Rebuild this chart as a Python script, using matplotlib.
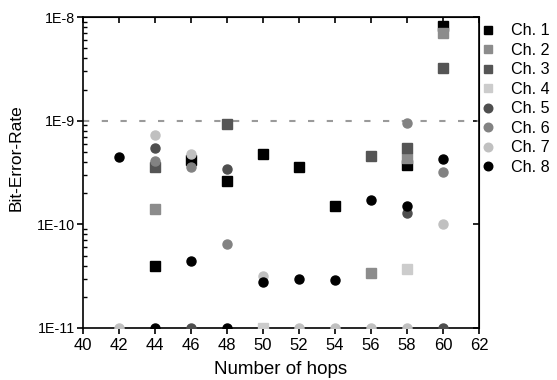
import numpy as np
import matplotlib
matplotlib.use("Agg")
import matplotlib.pyplot as plt
from matplotlib.ticker import FixedLocator, LogLocator, NullFormatter

plt.rcParams['font.family'] = ['Liberation Sans', 'DejaVu Sans']

# hops on the x axis
hops = [42, 44, 46, 48, 50, 52, 54, 56, 58, 60]
nan = np.nan

# BER per channel (1E-11 = floor, no errors measured)
ch1 = [nan, 4.0e-11, 4.2e-10, 2.6e-10, 4.8e-10, 3.6e-10, 1.5e-10, nan, 3.7e-10, 8.2e-9]
ch2 = [nan, 1.4e-10, nan, nan, nan, nan, nan, 3.4e-11, 4.4e-10, 7.1e-9]
ch3 = [nan, 3.6e-10, nan, 9.3e-10, nan, nan, nan, 4.6e-10, 5.5e-10, 3.2e-9]
ch4 = [nan, nan, nan, nan, 1e-11, nan, nan, nan, 3.7e-11, nan]
ch5 = [nan, 5.5e-10, 1e-11, 3.4e-10, nan, nan, nan, nan, 1.3e-10, 1e-11]
ch6 = [nan, 4.1e-10, 3.6e-10, 6.5e-11, nan, nan, nan, nan, 9.6e-10, 3.2e-10]
ch7 = [1e-11, 7.2e-10, 4.8e-10, nan, 3.2e-11, 1e-11, 1e-11, 1e-11, 1e-11, 1.0e-10]
ch8 = [4.5e-10, 1e-11, 4.4e-11, 1e-11, 2.75e-11, 3.0e-11, 2.9e-11, 1.7e-10, 1.5e-10, 4.3e-10]

labels = ["Ch. 1", "Ch. 2", "Ch. 3", "Ch. 4", "Ch. 5", "Ch. 6", "Ch. 7", "Ch. 8"]
series = [ch1, ch2, ch3, ch4, ch5, ch6, ch7, ch8]
marcadores = ['s', 's', 's', 's', 'o', 'o', 'o', 'o']
colores = ['#000000', '#8c8c8c', '#555555', '#cccccc', '#4e4e4e', '#828282', '#c0c0c0', '#000000']

fig = plt.figure(figsize=(5.57, 3.8), dpi=100)
ax = fig.add_axes([0.149, 0.137, 0.711, 0.818])

ax.axhline(1e-9, color='#9a9a9a', ls=(0, (3, 6)), lw=1.5, zorder=1)

for y, m, c, lab in zip(series, marcadores, colores, labels):
    ax.plot(hops, y, ls='none', marker=m, ms=6.5, color=c, mec=c, label=lab, zorder=3)

ax.set_yscale('log')
ax.set_xlim(40, 62)
ax.set_ylim(1e-11, 1e-8)
ax.set_xticks(range(40, 63, 2))
ax.yaxis.set_major_locator(FixedLocator([1e-11, 1e-10, 1e-9, 1e-8]))
ax.set_yticklabels(["1E-11", "1E-10", "1E-9", "1E-8"])
ax.yaxis.set_minor_locator(LogLocator(base=10, subs=np.arange(2, 10)))
ax.yaxis.set_minor_formatter(NullFormatter())

for s in ax.spines.values():
    s.set_linewidth(1.2)

ax.tick_params(axis='x', which='major', direction='out', length=4, width=1.2,
               labelsize=12, top=False, pad=3)
ax.tick_params(axis='y', which='major', direction='out', length=4, width=1.2,
               labelsize=10.3, right=False, pad=2)
ax.tick_params(axis='y', which='minor', direction='in', length=3, width=1, right=False)

# ticks on top and right side (inside, no labels)
top = ax.secondary_xaxis('top')
top.set_xticks(range(40, 63, 2))
top.tick_params(direction='in', length=4, width=1.2, labeltop=False)
right = ax.secondary_yaxis('right')
right.set_yscale('log')
right.yaxis.set_major_locator(FixedLocator([1e-11, 1e-10, 1e-9, 1e-8]))
right.yaxis.set_minor_locator(FixedLocator([]))
right.tick_params(direction='in', length=4, width=1.2, labelright=False)

ax.set_xlabel("Number of hops", fontsize=13.5, labelpad=6)
ax.set_ylabel("Bit-Error-Rate", fontsize=12.5, labelpad=4)
ax.yaxis.set_label_coords(-0.15, 0.547)

fig.legend(loc='upper left', bbox_to_anchor=(0.853, 0.956), frameon=False,
           fontsize=11.6, handlelength=0.8, handletextpad=1.05,
           labelspacing=0.28, markerscale=0.95, borderaxespad=0)

fig.savefig("out.png", dpi=100)
